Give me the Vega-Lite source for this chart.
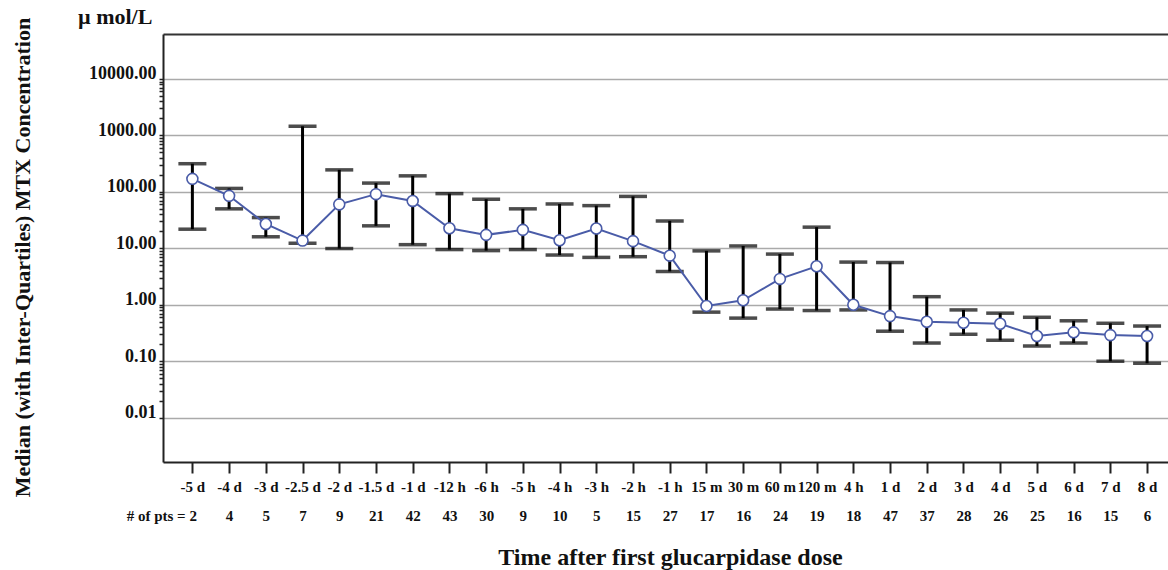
{
  "$schema": "https://vega.github.io/schema/vega-lite/v6.json",
  "width": 1005,
  "height": 428,
  "autosize": {"type": "none"},
  "padding": {"left": 163, "top": 34, "right": 0, "bottom": 108},
  "background": "white",
  "title": {
    "text": "µ mol/L",
    "anchor": "start",
    "frame": "group",
    "dx": -85,
    "dy": 20,
    "offset": 8,
    "font": "Liberation Serif",
    "fontSize": 22,
    "fontWeight": "bold",
    "color": "#111"
  },
  "data": {
    "values": [
      {"time": "-5 d", "n": 2, "median": 170, "q1": 21.8, "q3": 315},
      {"time": "-4 d", "n": 4, "median": 85, "q1": 50, "q3": 115},
      {"time": "-3 d", "n": 5, "median": 27, "q1": 16, "q3": 35},
      {"time": "-2.5 d", "n": 7, "median": 13.7, "q1": 12.3, "q3": 1450},
      {"time": "-2 d", "n": 9, "median": 60, "q1": 9.9, "q3": 245},
      {"time": "-1.5 d", "n": 21, "median": 91, "q1": 25, "q3": 143},
      {"time": "-1 d", "n": 42, "median": 69, "q1": 11.6, "q3": 192},
      {"time": "-12 h", "n": 43, "median": 22.7, "q1": 9.5, "q3": 93},
      {"time": "-6 h", "n": 30, "median": 17.3, "q1": 9.1, "q3": 74},
      {"time": "-5 h", "n": 9, "median": 21.2, "q1": 9.5, "q3": 50},
      {"time": "-4 h", "n": 10, "median": 13.9, "q1": 7.6, "q3": 61},
      {"time": "-3 h", "n": 5, "median": 22.4, "q1": 6.9, "q3": 57},
      {"time": "-2 h", "n": 15, "median": 13.4, "q1": 7.1, "q3": 83},
      {"time": "-1 h", "n": 27, "median": 7.4, "q1": 3.9, "q3": 30.6},
      {"time": "15 m", "n": 17, "median": 0.95, "q1": 0.74, "q3": 9.0},
      {"time": "30 m", "n": 16, "median": 1.2, "q1": 0.58, "q3": 11},
      {"time": "60 m", "n": 24, "median": 2.87, "q1": 0.84, "q3": 7.9},
      {"time": "120 m", "n": 19, "median": 4.8, "q1": 0.79, "q3": 23.7},
      {"time": "4 h", "n": 18, "median": 1.0, "q1": 0.81, "q3": 5.7},
      {"time": "1 d", "n": 47, "median": 0.63, "q1": 0.34, "q3": 5.6},
      {"time": "2 d", "n": 37, "median": 0.5, "q1": 0.21, "q3": 1.39},
      {"time": "3 d", "n": 28, "median": 0.48, "q1": 0.3, "q3": 0.81},
      {"time": "4 d", "n": 26, "median": 0.46, "q1": 0.235, "q3": 0.71},
      {"time": "5 d", "n": 25, "median": 0.28, "q1": 0.186, "q3": 0.6},
      {"time": "6 d", "n": 16, "median": 0.325, "q1": 0.21, "q3": 0.52},
      {"time": "7 d", "n": 15, "median": 0.29, "q1": 0.1, "q3": 0.47},
      {"time": "8 d", "n": 6, "median": 0.28, "q1": 0.092, "q3": 0.42}
    ]
  },
  "transform": [
    {"calculate": "datum.time + '|' + datum.n", "as": "key"}
  ],
  "resolve": {"axis": {"x": "independent"}},
  "layer": [
    {
      "mark": {
        "type": "errorbar",
        "color": "black",
        "ticks": {"size": 28, "thickness": 3.5, "color": "black"},
        "rule": {"strokeWidth": 3, "color": "black"}
      },
      "encoding": {
        "x": {
          "field": "key",
          "type": "nominal",
          "sort": null,
          "scale": {"type": "point", "padding": 0.685, "align": 0.584},
          "axis": {
            "orient": "bottom",
            "labelExpr": "split(datum.value, '|')[0]",
            "labelAngle": 0,
            "labelFont": "Liberation Serif",
            "labelFontWeight": "bold",
            "labelFontSize": 15,
            "labelColor": "#111",
            "labelPadding": 6,
            "tickSize": 11,
            "tickWidth": 2,
            "tickColor": "#222",
            "domainColor": "#222",
            "domainWidth": 2,
            "grid": false,
            "title": "Time after first glucarpidase dose",
            "titleFont": "Liberation Serif",
            "titleFontWeight": "bold",
            "titleFontSize": 24,
            "titleColor": "#111",
            "titleX": 507,
            "titleY": 95,
            "titleAlign": "center",
            "titleBaseline": "middle",
            "labelOverlap": false
          }
        },
        "y": {
          "field": "q1",
          "type": "quantitative",
          "scale": {"type": "log", "domain": [0.00164, 62500], "nice": false, "zero": false},
          "axis": {
            "values": [0.01, 0.02, 0.03, 0.04, 0.05, 0.06, 0.07, 0.08, 0.09,
                       0.1, 0.2, 0.3, 0.4, 0.5, 0.6, 0.7, 0.8, 0.9,
                       1, 2, 3, 4, 5, 6, 7, 8, 9,
                       10, 20, 30, 40, 50, 60, 70, 80, 90,
                       100, 200, 300, 400, 500, 600, 700, 800, 900,
                       1000, 2000, 3000, 4000, 5000, 6000, 7000, 8000, 9000,
                       10000, 62500],
            "labelExpr": "abs(log(datum.value)/LN10 - round(log(datum.value)/LN10)) < 1e-9 ? format(datum.value, '.2f') : ''",
            "labelFont": "Liberation Serif",
            "labelFontWeight": "bold",
            "labelFontSize": 18,
            "labelColor": "#111",
            "labelBaseline": "alphabetic",
            "labelPadding": 3,
            "labelOverlap": false,
            "labelBound": false,
            "labelFlush": false,
            "tickSize": {"condition": {"test": "datum.value > 50000", "value": 0}, "value": 4},
            "tickWidth": 1.5,
            "tickColor": "#222",
            "domainColor": "#222",
            "domainWidth": 2,
            "grid": true,
            "gridColor": {"condition": {"test": "datum.value > 50000", "value": "#333333"}, "value": "#aaaaaa"},
            "gridWidth": {"condition": {"test": "datum.value > 50000", "value": 2}, "value": 1.5},
            "gridOpacity": {"condition": {"test": "datum.value > 50000 || abs(log(datum.value)/LN10 - round(log(datum.value)/LN10)) < 1e-9", "value": 1}, "value": 0},
            "title": "Median (with Inter-Quartiles) MTX Concentration",
            "titleFont": "Liberation Serif",
            "titleFontWeight": "bold",
            "titleFontSize": 22,
            "titleColor": "#111",
            "titleAngle": -90,
            "titleX": -141,
            "titleY": 223,
            "titleAlign": "center",
            "titleBaseline": "middle"
          }
        },
        "y2": {"field": "q3"}
      }
    },
    {
      "mark": {"type": "line", "color": "#4a5ca8", "strokeWidth": 2},
      "encoding": {
        "x": {
          "field": "key",
          "type": "nominal",
          "sort": null,
          "axis": {
            "orient": "bottom",
            "labelExpr": "datum.index == 0 ? '# of pts = ' + split(datum.value, '|')[1] : split(datum.value, '|')[1]",
            "labelAlign": {"condition": {"test": "datum.index == 0", "value": "right"}, "value": "center"},
            "labelOffset": {"condition": {"test": "datum.index == 0", "value": 4}, "value": 0},
            "labelAngle": 0,
            "labelFont": "Liberation Serif",
            "labelFontWeight": "bold",
            "labelFontSize": 15,
            "labelColor": "#111",
            "labelPadding": 46,
            "ticks": false,
            "tickSize": 0,
            "domain": false,
            "grid": false,
            "title": null,
            "labelOverlap": false,
            "labelBound": false
          }
        },
        "y": {"field": "median", "type": "quantitative", "title": "Median (with Inter-Quartiles) MTX Concentration"}
      }
    },
    {
      "mark": {"type": "point", "filled": true, "fill": "white", "stroke": "#4a5ca8", "strokeWidth": 1.6, "size": 120, "opacity": 1},
      "encoding": {
        "x": {"field": "key", "type": "nominal", "sort": null, "axis": null},
        "y": {"field": "median", "type": "quantitative", "title": "Median (with Inter-Quartiles) MTX Concentration"}
      }
    }
  ],
  "config": {
    "view": {"stroke": null},
    "font": "Liberation Serif"
  }
}
